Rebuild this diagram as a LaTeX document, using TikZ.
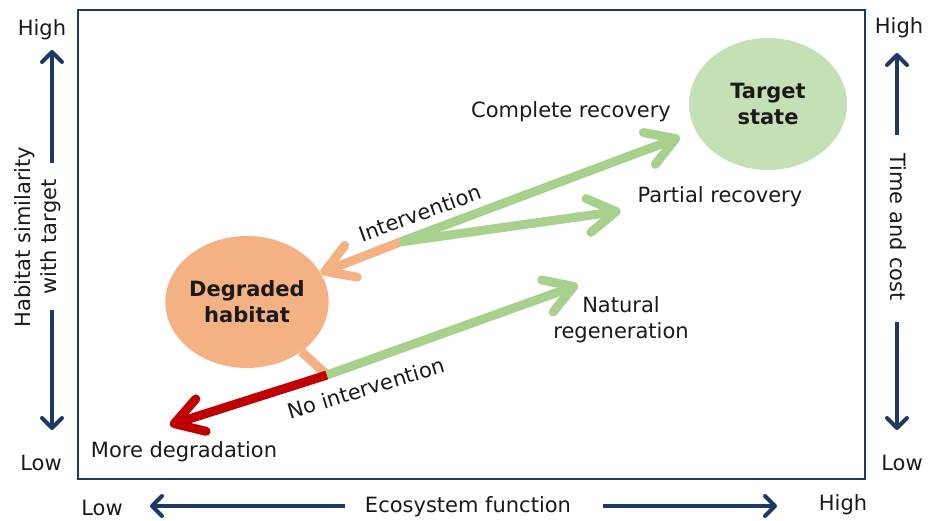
\documentclass[tikz,border=0pt]{standalone}
\usepackage{fontspec}
\setmainfont{DejaVu Sans}
\usetikzlibrary{arrows.meta,shapes.geometric}
\definecolor{navy}{HTML}{203864}
\definecolor{leaf}{HTML}{A9D18E}
\definecolor{leaffill}{HTML}{C5E0B4}
\definecolor{peach}{HTML}{F4B183}
\definecolor{deepred}{HTML}{C00000}
\definecolor{ink}{HTML}{1A1A1A}
\begin{document}
\begin{tikzpicture}[x=1pt,y=-1pt,
  every node/.style={font=\fontsize{21}{26}\selectfont, text=ink, inner sep=2pt},
  lbl/.style={align=center},
  state/.style={ellipse, minimum width=158pt, minimum height=132pt, inner sep=0pt,
    align=center, font=\fontsize{21}{26}\selectfont\bfseries},
  flow/.style={line width=9pt, line cap=butt,
    -{Straight Barb[length=28pt,width=34pt,round]}},
  stub/.style={line width=9pt, line cap=butt},
  axisarrow/.style={navy, line width=4pt, line cap=butt,
    -{Straight Barb[length=10pt,width=20pt,round]}},
]
\useasboundingbox (0,0) rectangle (932,521);

% plot frame
\draw[navy, line width=2.5pt] (78,10) rectangle (865,479);

% states
\node[state, fill=leaffill] (target) at (768,104) {Target\\state};
\node[state, fill=peach] (degraded) at (247,302) {Degraded\\habitat};

% outcome labels
\node[lbl] (complete) at (571,112) {Complete recovery};
\node[lbl] (partial) at (720,197) {Partial recovery};
\node[lbl] (natural) at (621,320) {Natural\\regeneration};
\node[lbl] (more) at (184,452) {More degradation};
\node[lbl, rotate=20] (interv) at (420,213) {Intervention};
\node[lbl, rotate=17] (nointerv) at (366,388) {No intervention};

% branch points and free ends
\coordinate (split) at (400,242);
\coordinate (fork) at (327,375);
\coordinate (natend) at (578,285);
\coordinate (degend) at (170,425);

% pathways
\draw[flow, peach] (split) -- (degraded);
\draw[stub, peach] (degraded) -- (fork);
\draw[flow, deepred] (fork) -- (degend);
\draw[flow, leaf] (fork) -- (natend);
\draw[flow, leaf, shorten >=17pt] (split) -- (target);
\draw[flow, leaf, shorten >=15pt] (split) -- (partial);

% vertical axis: habitat similarity
\node[lbl] (yhigh) at (42,30) {High};
\node[lbl] (ylow) at (41,463) {Low};
\node[lbl, rotate=90] (ytitle) at (38,237) {Habitat similarity\\with target};
\coordinate (yup0) at (52,163);
\coordinate (yup1) at (52,50);
\coordinate (ydn0) at (52,310);
\coordinate (ydn1) at (52,430);
\draw[axisarrow] (yup0) -- (yup1);
\draw[axisarrow] (ydn0) -- (ydn1);

% vertical axis: time and cost
\node[lbl] (chigh) at (899,28) {High};
\node[lbl] (clow) at (902,463) {Low};
\node[lbl, rotate=-90] (ctitle) at (898,227) {Time and cost};
\coordinate (cup0) at (897,135);
\coordinate (cup1) at (897,53);
\coordinate (cdn0) at (897,322);
\coordinate (cdn1) at (897,430);
\draw[axisarrow] (cup0) -- (cup1);
\draw[axisarrow] (cdn0) -- (cdn1);

% horizontal axis: ecosystem function
\node[lbl] (xlow) at (102,508) {Low};
\node[lbl] (xhigh) at (843,505) {High};
\node[lbl] (xtitle) at (468,507) {Ecosystem function};
\coordinate (xl0) at (345,506);
\coordinate (xl1) at (150,506);
\coordinate (xr0) at (603,506);
\coordinate (xr1) at (777,506);
\draw[axisarrow] (xl0) -- (xl1);
\draw[axisarrow] (xr0) -- (xr1);
\end{tikzpicture}
\end{document}
